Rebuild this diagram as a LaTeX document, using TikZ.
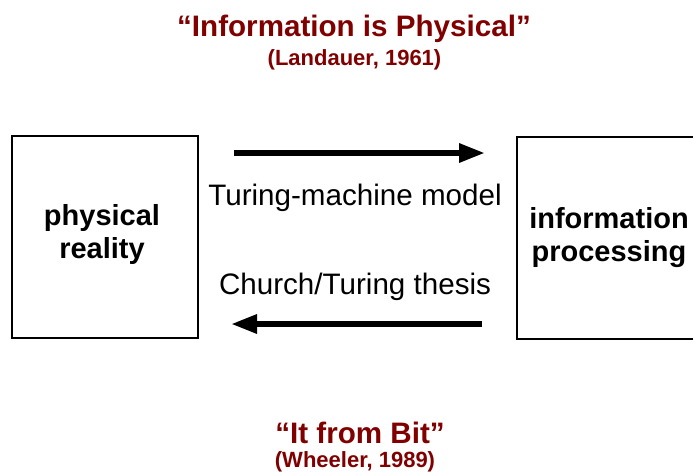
\documentclass[tikz,border=0pt]{standalone}
\usepackage{fontspec}
\setmainfont{Liberation Sans}
\usetikzlibrary{arrows.meta,calc}
\definecolor{quotered}{RGB}{128,0,0}
\tikzset{
  box/.style={draw=black, line width=2pt, minimum width=#1, minimum height=202pt, inner sep=0pt},
  boxtext/.style={inner sep=0pt, align=center, font=\fontsize{29}{32.5}\selectfont\bfseries},
  bigarrow/.style={line width=6pt, -{Triangle[length=26pt,width=18pt]}},
  lbl/.style={anchor=base, inner sep=0pt, font=\fontsize{29.6}{34}\selectfont},
  quote/.style={anchor=base, inner sep=0pt, text=quotered, font=\fontsize{29.6}{34}\selectfont\bfseries},
  cite/.style={anchor=base, inner sep=0pt, text=quotered, font=\fontsize{22}{26}\selectfont\bfseries}
}
\begin{document}
\begin{tikzpicture}[x=1pt,y=-1pt]
\useasboundingbox (0,0) rectangle (693,472);
\node[box=186pt] (L) at (105,236.5) {};
\node[box=184pt] (R) at (609,237.5) {};
\node[boxtext] (Lt) at ([shift={(-3,-2)}]L.center) {physical\\reality};
\node[boxtext] (Rt) at ([shift={(0,0)}]R.center) {information\\processing};
\coordinate (ta) at ([xshift=35pt]L.east |- 0,153);
\coordinate (tb) at ([xshift=-31pt]R.west |- 0,153);
\coordinate (ba) at ([xshift=-34pt]R.west |- 0,324);
\coordinate (bb) at ([xshift=32pt]L.east |- 0,324);
\draw[bigarrow] (ta) -- (tb);
\draw[bigarrow] (ba) -- (bb);
\node[lbl] (tm) at (355,205) {Turing-machine model};
\node[lbl] (ct) at (355,294) {Church/Turing thesis};
\node[quote] (q1) at (354,36) {“Information is Physical”};
\node[cite] (c1) at (354.5,65) {(Landauer, 1961)};
\node[quote] (q2) at (360,443) {“It from Bit”};
\node[cite] (c2) at (355,467) {(Wheeler, 1989)};
\end{tikzpicture}
\end{document}
